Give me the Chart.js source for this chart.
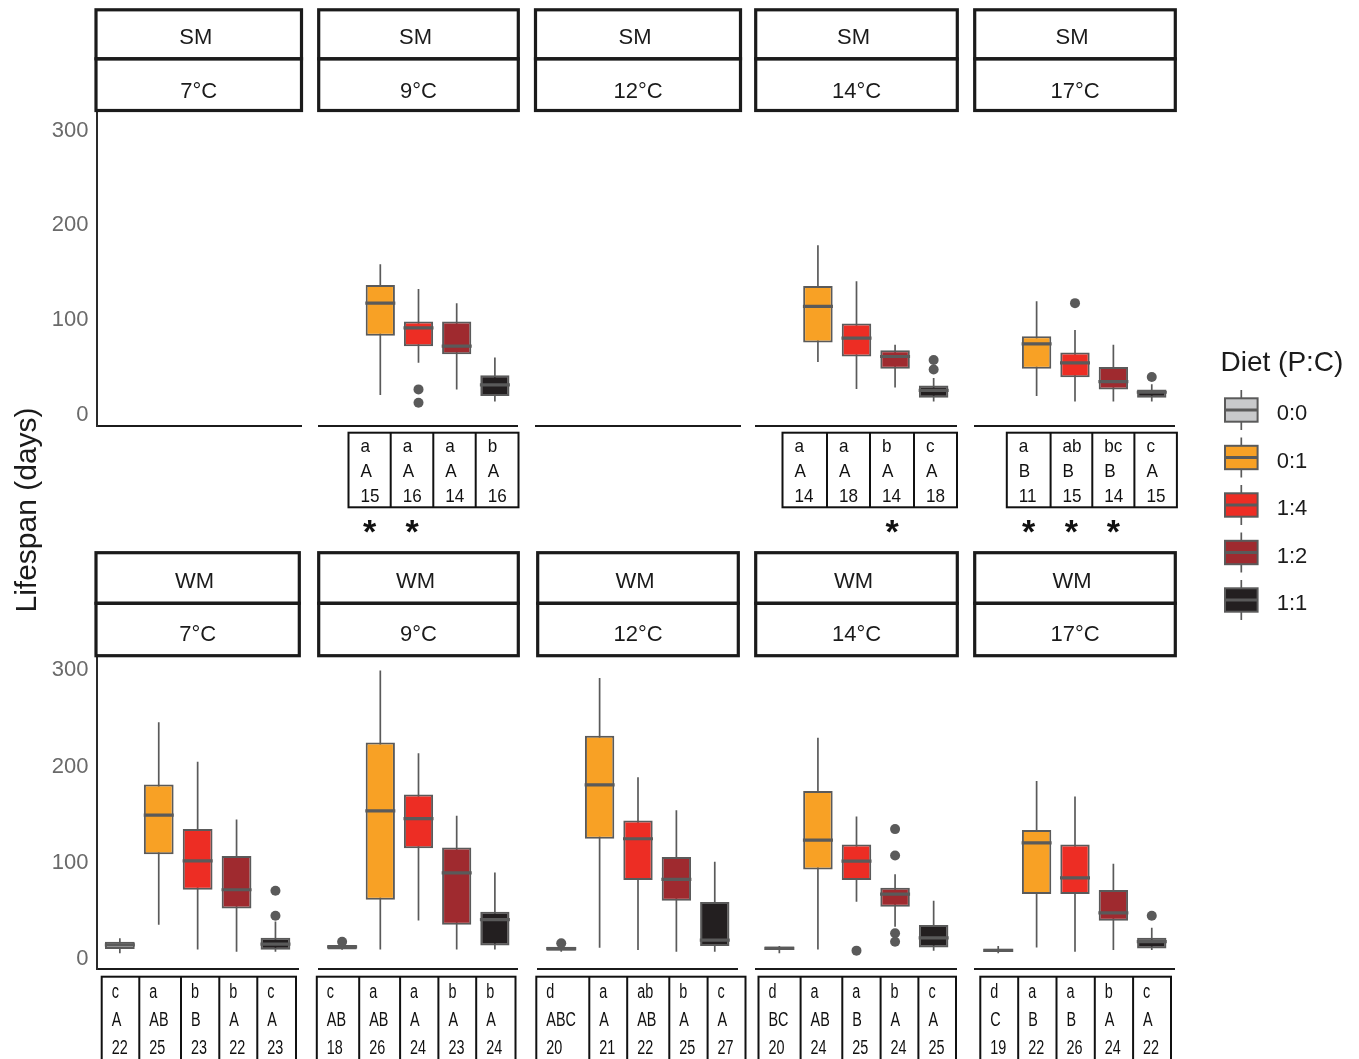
<!DOCTYPE html>
<html>
<head>
<meta charset="utf-8">
<title>Lifespan by diet, medium and temperature</title>
<script src="https://cdn.jsdelivr.net/npm/chart.js@4.4.1/dist/chart.umd.min.js"></script>
<style>
  html, body { margin: 0; padding: 0; background: #fff; }
  #stage { position: relative; width: 1359px; height: 1059px; overflow: hidden; background: #fff; }
  #stage canvas { position: absolute; }
</style>
</head>
<body>
<div id="stage"><canvas id="frame" width="1359" height="1059" style="left:0;top:0;width:1359px;height:1059px"></canvas></div>
<script>
// ---- data ---------------------------------------------------------------
const diets = ['0:0', '0:1', '1:4', '1:2', '1:1'];
const temperatures = ['7°C', '9°C', '12°C', '14°C', '17°C'];
const media = ['SM', 'WM'];
const yTicks = [0, 100, 200, 300];
const dietColours = ['#c8c9cb', '#f8a125', '#ed2d24', '#9f2a2f', '#231f20'];

// box statistics per temperature, one [lower whisker, Q1, median, Q3, upper whisker] per diet
const smBoxes = [
  [null, null, null, null, null],
  [null, [21, 83.5, 118, 137, 159], [55, 72.6, 92, 98.6, 133], [27, 64, 72.6, 98.6, 118], [14.3, 20, 31.7, 41.8, 60.6]],
  [null, null, null, null, null],
  [null, [56, 76.5, 114.5, 136, 179], [27.4, 61.7, 81, 96.4, 141], [29, 48.7, 61.7, 68.2, 74], [14.3, 18.3, 26, 31, 39]],
  [null, [20, 48.7, 75, 83, 120], [14.3, 39.7, 55, 66, 89.6], [14.3, 27, 35.3, 50.5, 74], [14.3, 18.3, 24, 27, 32.4]]
];
const smOutliers = [
  [[], [], [], [], []],
  [[], [], [27, 13], [], []],
  [[], [], [], [], []],
  [[], [], [], [], [58, 48]],
  [[], [], [118], [], [40]]
];
const wmBoxes = [
  [[6, 10.4, 14.6, 18, 21.5], [35.5, 109, 149.5, 181.5, 246], [10, 72, 102, 135, 205], [7.6, 52.5, 72, 107, 145], [7.6, 9.5, 15.5, 22, 39]],
  [[9.5, 10, 12.5, 14.5, 15.5], [10, 61.5, 154, 225, 300], [40, 115, 146, 171, 214], [10, 35.5, 89.5, 116, 149], [10, 14, 41, 49, 90]],
  [[7.6, 8.6, 10.7, 12.8, 13.5], [11.7, 125, 181, 232, 292], [9.4, 82, 125, 144, 189], [7.6, 60.6, 82.7, 106, 154.6], [7.6, 13.5, 19.7, 59.3, 101]],
  [[6, 9.4, 11, 13, 13.5], [10, 93, 123.5, 174.6, 230], [59.5, 82, 101.7, 119, 148], [33.6, 54.3, 67.5, 74, 88], [8.7, 12, 22, 35.3, 60.5]],
  [[6, 7.3, 9, 10.7, 13.5], [12, 67.5, 120.7, 134, 185], [7.6, 67.5, 84.4, 119, 169], [9.4, 39.8, 48, 71.6, 99], [9.4, 11, 18, 22, 32.5]]
];
const wmOutliers = [
  [[], [], [], [], [71, 45]],
  [[18], [], [], [], []],
  [[16.3], [], [], [], []],
  [[], [], [8.7], [135, 107.6, 26.7, 18], []],
  [[], [], [], [], [45]]
];

// group letters (diet within temperature), letters (temperature within diet), sample sizes
const smDietLetters = [null, ['a', 'a', 'a', 'b'], null, ['a', 'a', 'b', 'c'], ['a', 'ab', 'bc', 'c']];
const smTempLetters = [null, ['A', 'A', 'A', 'A'], null, ['A', 'A', 'A', 'A'], ['B', 'B', 'B', 'A']];
const smCounts = [null, [15, 16, 14, 16], null, [14, 18, 14, 18], [11, 15, 14, 15]];
const smStars = [null, [1, 1, 0, 0], null, [0, 0, 1, 0], [1, 1, 1, 0]];
const wmDietLetters = [['c', 'a', 'b', 'b', 'c'], ['c', 'a', 'a', 'b', 'b'], ['d', 'a', 'ab', 'b', 'c'], ['d', 'a', 'a', 'b', 'c'], ['d', 'a', 'a', 'b', 'c']];
const wmTempLetters = [['A', 'AB', 'B', 'A', 'A'], ['AB', 'AB', 'A', 'A', 'A'], ['ABC', 'A', 'AB', 'A', 'A'], ['BC', 'AB', 'B', 'A', 'A'], ['C', 'B', 'B', 'A', 'A']];
const wmCounts = [[22, 25, 23, 22, 23], [18, 26, 24, 23, 24], [20, 21, 22, 25, 27], [20, 24, 25, 24, 25], [19, 22, 26, 24, 22]];
const wmStars = [null, null, null, null, null];

// ---- layout -------------------------------------------------------------
const FONT = "'Liberation Sans', Arial, Helvetica, sans-serif";
const INK = '#1b1b1b';
const BOX_LINE = '#5a5a5a';
Chart.defaults.font.family = FONT;

const panelX = [[96.5, 301], [317, 520], [536, 740], [754, 959], [973, 1177]];

const rows = [
  {
    media: media[0], boxes: smBoxes, outliers: smOutliers,
    dietLetters: smDietLetters, tempLetters: smTempLetters, counts: smCounts, stars: smStars,
    canvasTop: 0, canvasHeight: 545, plotTop: 110, plotBottom: 426, yMin: -11.6, yMax: 321.7,
    strip: [9.8, 58.8, 110.5], mediaBase: 43.6, tempBase: 97.9,
    table: {
      top: 432.7, bottom: 507.3, base: [452, 477, 502], size: 19, squeeze: 0.9, pad: 12,
      edges: [null, [348.5, 390.7, 433.3, 475.7, 518.5], null, [782.5, 827, 870, 914, 957], [1006.8, 1050.6, 1092.3, 1134.4, 1176.9]]
    },
    starBase: 543
  },
  {
    media: media[1], boxes: wmBoxes, outliers: wmOutliers,
    dietLetters: wmDietLetters, tempLetters: wmTempLetters, counts: wmCounts, stars: wmStars,
    canvasTop: 545, canvasHeight: 514, plotTop: 655, plotBottom: 969, yMin: -10.4, yMax: 316,
    strip: [552.7, 603.3, 655.7], mediaBase: 588.4, tempBase: 641.2,
    table: {
      top: 976.7, bottom: 1085, base: [998, 1026, 1054], size: 20, squeeze: 0.72, pad: 10,
      edges: [[101.7, 139.3, 181, 219.3, 257.3, 296], [316.8, 359.2, 400.1, 438.4, 476.2, 515.5],
              [536.3, 589.3, 627.2, 669.3, 707.6, 745.5], [758.5, 800.6, 842.3, 880.6, 918.4, 956],
              [980.3, 1018.2, 1056.5, 1094.8, 1133.1, 1171]]
    },
    starBase: 0
  }
];

// strips above each panel and the letter table below it
function panelDecor(row, c, left) {
  return {
    id: 'panelDecor',
    afterDraw(chart) {
      const ctx = chart.ctx;
      const area = chart.chartArea;
      const top = row.canvasTop;
      ctx.save();

      const sx0 = area.left - 0.5, sx1 = area.right + 0.5;
      const s = row.strip.map(v => v - top);
      ctx.fillStyle = '#fff';
      ctx.fillRect(sx0, s[0], sx1 - sx0, s[2] - s[0]);
      ctx.lineWidth = 3.2;
      ctx.strokeStyle = INK;
      ctx.strokeRect(sx0, s[0], sx1 - sx0, s[1] - s[0]);
      ctx.strokeRect(sx0, s[1], sx1 - sx0, s[2] - s[1]);
      ctx.fillStyle = INK;
      ctx.font = '22px ' + FONT;
      ctx.textAlign = 'center';
      ctx.textBaseline = 'alphabetic';
      const cx = (area.left + area.right) / 2;
      ctx.fillText(row.media, cx - 3, row.mediaBase - top);
      ctx.fillText(temperatures[c], cx, row.tempBase - top);

      const t = row.table;
      const edges = t.edges[c];
      if (edges && row.counts[c]) {
        const ty0 = t.top - top, ty1 = t.bottom - top;
        ctx.lineWidth = 2;
        ctx.strokeStyle = '#111';
        ctx.strokeRect(edges[0] - left, ty0, edges[edges.length - 1] - edges[0], ty1 - ty0);
        ctx.beginPath();
        for (let k = 1; k < edges.length - 1; k++) {
          ctx.moveTo(edges[k] - left, ty0);
          ctx.lineTo(edges[k] - left, ty1);
        }
        ctx.stroke();
        ctx.fillStyle = '#111';
        ctx.textAlign = 'left';
        ctx.font = t.size + 'px ' + FONT;
        row.counts[c].forEach((n, k) => {
          const lines = [row.dietLetters[c][k], row.tempLetters[c][k], String(n)];
          lines.forEach((txt, j) => {
            ctx.save();
            ctx.translate(edges[k] - left + t.pad, t.base[j] - top);
            ctx.scale(t.squeeze, 1);
            ctx.fillText(txt, 0, 0);
            ctx.restore();
          });
        });
        if (row.stars[c]) {
          ctx.textAlign = 'center';
          ctx.font = 'bold 34px ' + FONT;
          row.stars[c].forEach((flag, k) => {
            if (!flag) return;
            ctx.fillText('*', (edges[k] + edges[k + 1]) / 2 - left, row.starBase - top);
          });
        }
      }
      ctx.restore();
    }
  };
}

// ---- panels -------------------------------------------------------------
const stage = document.getElementById('stage');
rows.forEach(row => {
  temperatures.forEach((temp, c) => {
    const [px0, px1] = panelX[c];
    const left = c === 0 ? 0 : Math.floor(px0 - 16);
    const right = Math.ceil(px1 + 16);
    const width = right - left;
    const canvas = document.createElement('canvas');
    canvas.width = width;
    canvas.height = row.canvasHeight;
    canvas.style.left = left + 'px';
    canvas.style.top = row.canvasTop + 'px';
    canvas.style.width = width + 'px';
    canvas.style.height = row.canvasHeight + 'px';
    stage.appendChild(canvas);

    const whiskers = [], boxes = [], medians = [], fills = [], points = [];
    row.boxes[c].forEach((b, i) => {
      if (!b) return;
      whiskers.push({ x: i, y: [b[0], b[4]] });
      boxes.push({ x: i, y: [b[1], b[3]] });
      medians.push({ x: i, y: b[2] });
      fills.push(dietColours[i]);
    });
    row.outliers[c].forEach((list, i) => list.forEach(v => points.push({ x: i, y: v })));

    const showY = c === 0;
    new Chart(canvas, {
      type: 'bar',
      data: {
        datasets: [
          { type: 'bar', data: whiskers, backgroundColor: BOX_LINE, borderWidth: 0, grouped: false,
            categoryPercentage: 1, barPercentage: 1, maxBarThickness: 1.7, inflateAmount: 0, order: 4 },
          { type: 'bar', data: boxes, backgroundColor: fills, borderColor: BOX_LINE, borderWidth: 2,
            borderSkipped: false, grouped: false, categoryPercentage: 1, barPercentage: 0.765,
            inflateAmount: 0, order: 3 },
          { type: 'line', data: medians, showLine: false, pointStyle: 'line', pointRadius: 15,
            pointBorderWidth: 3.2, pointBorderColor: BOX_LINE, order: 2 },
          { type: 'line', data: points, showLine: false, pointStyle: 'circle', pointRadius: 5,
            pointBackgroundColor: BOX_LINE, pointBorderColor: BOX_LINE, pointBorderWidth: 0, order: 1 }
        ]
      },
      options: {
        responsive: false,
        animation: false,
        events: [],
        layout: {
          padding: {
            left: showY ? 0 : px0 - left,
            right: right - px1,
            top: row.plotTop - row.canvasTop,
            bottom: row.canvasTop + row.canvasHeight - row.plotBottom
          }
        },
        plugins: { legend: { display: false }, tooltip: { enabled: false } },
        scales: {
          x: {
            type: 'linear', min: -0.6, max: 4.6, offset: false,
            afterBuildTicks: s => { s.ticks = diets.map((d, i) => ({ value: i })); },
            afterFit: s => { s.height = 0; },
            ticks: { display: false },
            grid: { display: false, drawTicks: false },
            border: { display: true, color: INK, width: 2 }
          },
          y: {
            type: 'linear', display: showY, min: row.yMin, max: row.yMax,
            afterBuildTicks: s => { s.ticks = yTicks.map(v => ({ value: v })); },
            afterFit: s => { s.width = showY ? px0 - left : 0; },
            ticks: { color: '#6a6a6a', font: { size: 22 }, padding: 8 },
            grid: { display: false, drawTicks: false },
            border: { display: true, color: '#2a2a2a', width: 2 }
          }
        }
      },
      plugins: [panelDecor(row, c, left)]
    });
  });
});

// ---- shared axis title and legend ---------------------------------------
const fctx = document.getElementById('frame').getContext('2d');
fctx.fillStyle = INK;
fctx.save();
fctx.translate(35.7, 510);
fctx.rotate(-Math.PI / 2);
fctx.textAlign = 'center';
fctx.textBaseline = 'alphabetic';
fctx.font = '30px ' + FONT;
fctx.fillText('Lifespan (days)', 0, 0);
fctx.restore();

fctx.textAlign = 'left';
fctx.textBaseline = 'alphabetic';
fctx.font = '28px ' + FONT;
fctx.fillText('Diet (P:C)', 1220.5, 370.5);
diets.forEach((d, i) => {
  const cx = 1241.3, cy = 410 + i * 47.5;
  const hw = 16.3, hh = 11.7;
  fctx.strokeStyle = BOX_LINE;
  fctx.lineWidth = 1.7;
  fctx.beginPath();
  fctx.moveTo(cx, cy - 20);
  fctx.lineTo(cx, cy + 20);
  fctx.stroke();
  fctx.fillStyle = dietColours[i];
  fctx.fillRect(cx - hw, cy - hh, hw * 2, hh * 2);
  fctx.lineWidth = 2;
  fctx.strokeRect(cx - hw, cy - hh, hw * 2, hh * 2);
  fctx.lineWidth = 3;
  fctx.beginPath();
  fctx.moveTo(cx - hw, cy);
  fctx.lineTo(cx + hw, cy);
  fctx.stroke();
  fctx.fillStyle = INK;
  fctx.font = '22px ' + FONT;
  fctx.fillText(d, 1276.7, cy + 10);
});
</script>
</body>
</html>
